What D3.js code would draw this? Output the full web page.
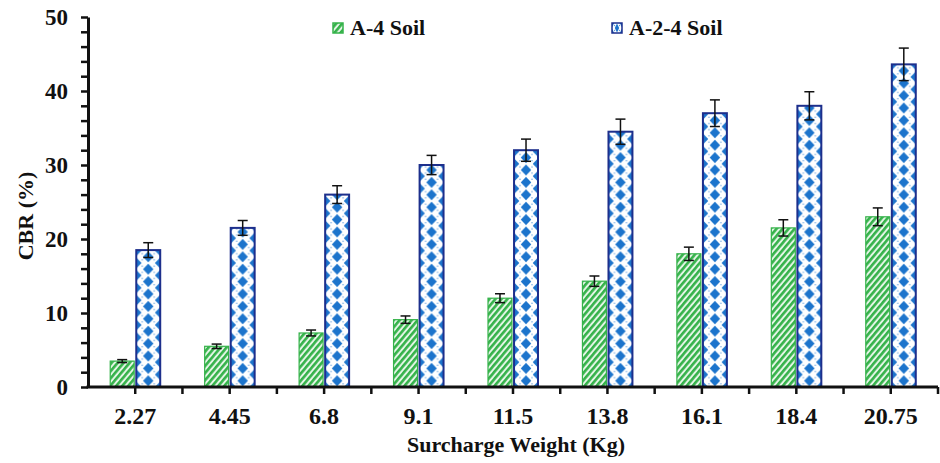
<!DOCTYPE html>
<html>
<head>
<meta charset="utf-8">
<script src="https://cdn.jsdelivr.net/npm/d3@7"></script>
<style>
  body { margin: 0; background: #fff; }
  text { font-family: "Liberation Serif", "Times New Roman", serif; font-weight: bold; fill: #111; }
</style>
</head>
<body>
<div id="root"></div>
<script>
let categories = ['2.27', '4.45', '6.8', '9.1', '11.5', '13.8', '16.1', '18.4', '20.75'];
let seriesNames = ['A-4 Soil', 'A-2-4 Soil'];
let a4Values = [3.5, 5.5, 7.3, 9.1, 12.0, 14.3, 18.0, 21.5, 23.0];
let a4Errors = [0.2, 0.3, 0.4, 0.5, 0.6, 0.7, 0.9, 1.1, 1.2];
let a24Values = [18.5, 21.5, 26.0, 30.0, 32.0, 34.5, 37.0, 38.0, 43.6];
let a24Errors = [1.0, 1.0, 1.2, 1.3, 1.5, 1.7, 1.8, 1.9, 2.2];
let yTicks = [0, 10, 20, 30, 40, 50];

let width = 940, height = 463;
let margin = {left: 88, right: 2, top: 17, bottom: 76};

let green = '#35b24a', greenLight = '#e4f5e6';
let blue = '#1c74cc', navy = '#1d2f8c';

let svg = d3.select('#root').append('svg')
    .attr('width', width)
    .attr('height', height);

let defs = svg.append('defs');

let x0 = d3.scaleBand()
    .domain(categories)
    .range([margin.left, width - margin.right]);

let x1 = d3.scaleBand()
    .domain(seriesNames)
    .range([-25, 25])
    .paddingInner(0.08);

let y = d3.scaleLinear()
    .domain([0, 50])
    .range([height - margin.bottom, margin.top]);

let rows = categories.map((c, i) => ({
    cat: c,
    i: i,
    a4: a4Values[i], a4e: a4Errors[i],
    a24: a24Values[i], a24e: a24Errors[i]
}));

// stripes for A-4
let stripe = defs.append('pattern')
    .attr('id', 'stripes')
    .attr('patternUnits', 'userSpaceOnUse')
    .attr('width', 4.6)
    .attr('height', 10)
    .attr('patternTransform', 'rotate(40)');
stripe.append('rect').attr('width', 4.6).attr('height', 10).attr('fill', greenLight);
stripe.append('rect').attr('width', 2.6).attr('height', 10).attr('fill', green);

// diamonds for A-2-4, one pattern per bar so it lines up with the bar edges
function diamondPattern(id, px, py, w, h) {
    let p = defs.append('pattern')
        .attr('id', id)
        .attr('patternUnits', 'userSpaceOnUse')
        .attr('x', px)
        .attr('y', py)
        .attr('width', w)
        .attr('height', h);
    p.append('rect').attr('width', w).attr('height', h).attr('fill', '#fff');
    let dx = w * 0.22, dy = h * 0.44;
    let centers = [[w / 2, h / 2], [0, 0], [w, 0], [0, h], [w, h]];
    p.selectAll('path')
        .data(centers)
        .enter()
        .append('path')
        .attr('d', d => `M${d[0] - dx},${d[1]} L${d[0]},${d[1] - dy} L${d[0] + dx},${d[1]} L${d[0]},${d[1] + dy} Z`)
        .attr('fill', blue);
    p.selectAll('circle')
        .data([[w / 4, h / 4], [3 * w / 4, h / 4], [w / 4, 3 * h / 4], [3 * w / 4, 3 * h / 4]])
        .enter()
        .append('circle')
        .attr('cx', d => d[0])
        .attr('cy', d => d[1])
        .attr('r', 0.7)
        .attr('fill', '#5d9ad8');
}

function center(c) {
    return x0(c) + x0.bandwidth() / 2;
}

let bw = x1.bandwidth();

// A-4 bars
svg.append('g')
    .selectAll('rect')
    .data(rows)
    .enter()
    .append('rect')
    .attr('x', d => center(d.cat) + x1(seriesNames[0]))
    .attr('y', d => y(d.a4))
    .attr('width', bw)
    .attr('height', d => y(0) - y(d.a4))
    .attr('fill', 'url(#stripes)')
    .attr('stroke', green)
    .attr('stroke-width', 1.2);

// A-2-4 bars
rows.forEach(d => {
    diamondPattern('dia' + d.i, center(d.cat) + x1(seriesNames[1]), y(0), bw, 12.4);
});

svg.append('g')
    .selectAll('rect')
    .data(rows)
    .enter()
    .append('rect')
    .attr('x', d => center(d.cat) + x1(seriesNames[1]))
    .attr('y', d => y(d.a24))
    .attr('width', bw)
    .attr('height', d => y(0) - y(d.a24))
    .attr('fill', d => `url(#dia${d.i})`)
    .attr('stroke', navy)
    .attr('stroke-width', 2);

// error bars
function errorBars(key, errKey, series) {
    let g = svg.append('g')
        .selectAll('g')
        .data(rows)
        .enter()
        .append('g')
        .attr('stroke', '#111')
        .attr('stroke-width', 1.5);
    let cx = d => center(d.cat) + x1(series) + bw / 2;
    g.append('line')
        .attr('x1', cx).attr('x2', cx)
        .attr('y1', d => y(d[key] + d[errKey]))
        .attr('y2', d => y(d[key] - d[errKey]));
    [1, -1].forEach(s => {
        g.append('line')
            .attr('x1', d => cx(d) - 5).attr('x2', d => cx(d) + 5)
            .attr('y1', d => y(d[key] + s * d[errKey]))
            .attr('y2', d => y(d[key] + s * d[errKey]));
    });
}
errorBars('a4', 'a4e', seriesNames[0]);
errorBars('a24', 'a24e', seriesNames[1]);

// y axis
let yAxis = svg.append('g')
    .attr('transform', `translate(${margin.left},0)`)
    .call(d3.axisLeft(y).tickValues(d3.range(0, 51, 2)).tickSize(7).tickSizeOuter(0).tickFormat(''));
yAxis.select('.domain').attr('stroke', '#111').attr('stroke-width', 3);
yAxis.selectAll('.tick line').attr('stroke', '#111').attr('stroke-width', 2.5);

svg.append('g')
    .selectAll('text')
    .data(yTicks)
    .enter()
    .append('text')
    .attr('x', 68)
    .attr('y', d => y(d))
    .attr('dy', '0.35em')
    .attr('text-anchor', 'end')
    .style('font-size', '23px')
    .text(d => d);

// x axis: ticks at band centres and boundaries
let xTickPos = [];
categories.forEach(c => {
    xTickPos.push(center(c));
    xTickPos.push(x0(c) + x0.bandwidth());
});
let xAxisG = svg.append('g');
xAxisG.append('line')
    .attr('x1', margin.left - 1.5)
    .attr('x2', width - margin.right)
    .attr('y1', y(0))
    .attr('y2', y(0))
    .attr('stroke', '#111')
    .attr('stroke-width', 3);
xAxisG.selectAll('.xt')
    .data(xTickPos)
    .enter()
    .append('line')
    .attr('x1', d => d).attr('x2', d => d)
    .attr('y1', y(0)).attr('y2', y(0) + 7)
    .attr('stroke', '#111')
    .attr('stroke-width', 2.5);

svg.append('g')
    .selectAll('text')
    .data(categories)
    .enter()
    .append('text')
    .attr('x', d => center(d))
    .attr('y', 424)
    .attr('text-anchor', 'middle')
    .style('font-size', '24px')
    .text(d => d);

// axis titles
svg.append('text')
    .attr('x', 516)
    .attr('y', 452)
    .attr('text-anchor', 'middle')
    .style('font-size', '22px')
    .text('Surcharge Weight (Kg)');

svg.append('text')
    .attr('transform', 'translate(33,216) rotate(-90)')
    .attr('text-anchor', 'middle')
    .style('font-size', '22px')
    .text('CBR (%)');

// legend
diamondPattern('diaLegend', 612, 23, 10, 10);
let legend = [
    {name: seriesNames[0], x: 333, fill: 'url(#stripes)', stroke: green},
    {name: seriesNames[1], x: 612, fill: 'url(#diaLegend)', stroke: navy}
];
let lg = svg.append('g')
    .selectAll('g')
    .data(legend)
    .enter()
    .append('g');
lg.append('rect')
    .attr('x', d => d.x)
    .attr('y', 23)
    .attr('width', 10)
    .attr('height', 10)
    .attr('fill', d => d.fill)
    .attr('stroke', d => d.stroke)
    .attr('stroke-width', 1.5);
lg.append('text')
    .attr('x', d => d.x + 17)
    .attr('y', 35)
    .style('font-size', '22px')
    .text(d => d.name);
</script>
</body>
</html>
